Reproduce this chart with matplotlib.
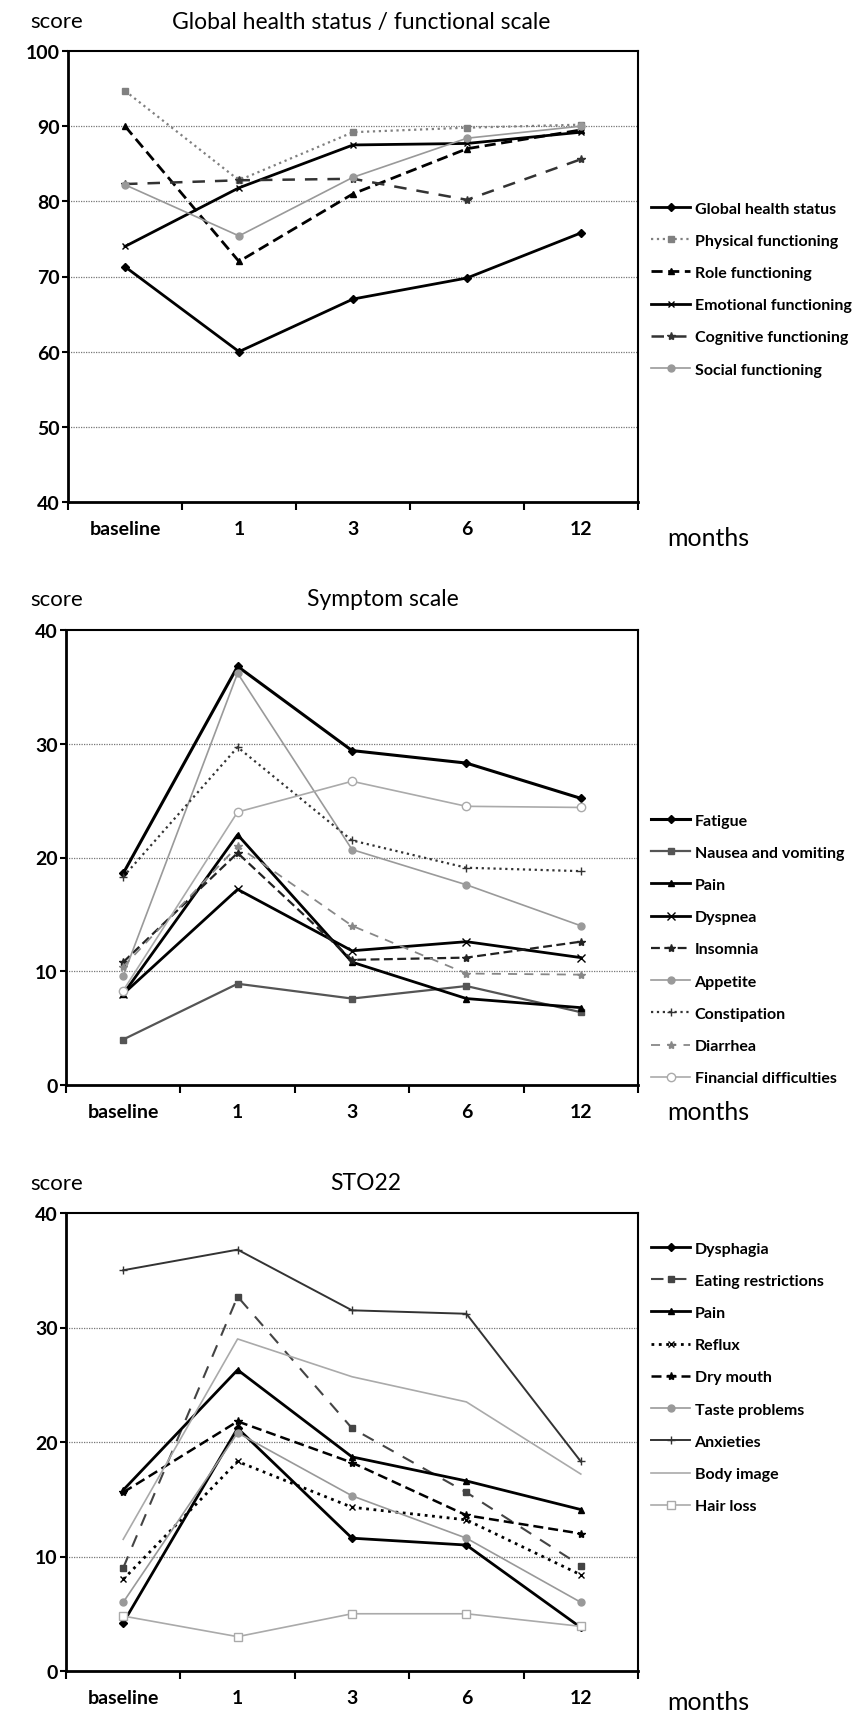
import matplotlib
matplotlib.use("Agg")
import matplotlib.pyplot as plt
import numpy as np

plt.rcParams['font.family'] = ['Lato', 'DejaVu Sans']

# x categories
months = ['baseline', '1', '3', '6', '12']

# Global health status / functional scale
global_health = [71.3, 60.0, 67.0, 69.8, 75.8]
physical_func = [94.7, 82.8, 89.2, 89.8, 90.2]
role_func = [90.0, 72.0, 81.0, 87.0, 89.5]
emotional_func = [74.0, 81.8, 87.5, 87.7, 89.2]
cognitive_func = [82.3, 82.8, 83.0, 80.2, 85.6]
social_func = [82.2, 75.4, 83.2, 88.4, 90.0]

# Symptom scale
fatigue = [18.6, 36.8, 29.4, 28.3, 25.2]
nausea = [4.0, 8.9, 7.6, 8.7, 6.4]
pain_sym = [8.0, 22.0, 10.8, 7.6, 6.8]
dyspnea = [8.0, 17.2, 11.8, 12.6, 11.2]
insomnia = [10.8, 20.4, 11.0, 11.2, 12.6]
appetite = [9.6, 36.2, 20.7, 17.6, 14.0]
constipation = [18.3, 29.7, 21.5, 19.1, 18.8]
diarrhea = [10.4, 21.0, 14.0, 9.8, 9.7]
financial = [8.3, 24.0, 26.7, 24.5, 24.4]

# STO22
dysphagia = [4.2, 21.2, 11.6, 11.0, 3.8]
eating = [9.0, 32.7, 21.2, 15.6, 9.2]
pain_sto = [15.8, 26.3, 18.7, 16.6, 14.1]
reflux = [8.0, 18.3, 14.3, 13.2, 8.4]
dry_mouth = [15.6, 21.8, 18.2, 13.6, 12.0]
taste = [6.0, 20.8, 15.3, 11.6, 6.0]
anxieties = [35.0, 36.8, 31.5, 31.2, 18.3]
body_image = [11.5, 29.0, 25.7, 23.5, 17.2]
hair_loss = [4.8, 3.0, 5.0, 5.0, 3.9]

W, H = 860, 1715
fig = plt.figure(figsize=(W / 100, H / 100), dpi=100)


def rect(l, t, r, b):
    return [l / W, 1 - b / H, (r - l) / W, (b - t) / H]


def st(ls, mk, c, lw, mfc=None, ms=5):
    return dict(linestyle=ls, marker=mk, color=c, linewidth=lw,
                markerfacecolor=mfc if mfc else c, markeredgecolor=c, markersize=ms)


def panel(box, title, title_x, top_y, series, ylim, yticks, leg_top, months_y):
    ax = fig.add_axes(rect(*box))
    x = np.arange(len(months))
    for name, vals, style in series:
        ax.plot(x, vals, label=name, **style)
    ax.set_xlim(-0.5, len(months) - 0.5)
    ax.set_ylim(*ylim)
    ax.set_yticks(yticks)
    ax.set_yticklabels([str(t) for t in yticks], fontsize=14, fontweight='bold')
    ax.set_xticks(x)
    ax.set_xticklabels(months, fontsize=14, fontweight='bold')
    ax.set_xticks(np.arange(len(months) + 1) - 0.5, minor=True)
    ax.tick_params(axis='x', which='major', length=0, pad=13)
    ax.tick_params(axis='x', which='minor', length=6, width=1.5, direction='out')
    ax.tick_params(axis='y', length=4, width=1.5, pad=2)
    for t in yticks[1:-1]:
        ax.axhline(t, color='#777777', linewidth=0.9, linestyle=(0, (1, 1)), zorder=0)
    for s in ax.spines.values():
        s.set_linewidth(2)
        s.set_color('black')
    ax.spines['top'].set_linewidth(1.5)
    ax.spines['right'].set_linewidth(1.5)
    fig.text(30 / W, 1 - top_y / H, 'score', fontsize=16, va='center', ha='left')
    fig.text(title_x / W, 1 - top_y / H, title, fontsize=16.5, va='center', ha='center')
    fig.text(667 / W, 1 - months_y / H, 'months', fontsize=18, va='center', ha='left')
    ax.legend(loc='upper left', bbox_to_anchor=(645 / W, 1 - leg_top / H),
              bbox_transform=fig.transFigure, frameon=False,
              prop=dict(size=11.5, weight='bold'), handlelength=2.4,
              handletextpad=0.3, labelspacing=1.13, borderaxespad=0)
    return ax


panel((68, 52, 638, 503), 'Global health status / functional scale', 361, 22,
      [('Global health status', global_health, st('-', 'D', 'black', 2.0, ms=4)),
       ('Physical functioning', physical_func, st(':', 's', '#808080', 1.6, ms=5)),
       ('Role functioning', role_func, st((0, (4, 2)), '^', 'black', 2.0, ms=5)),
       ('Emotional functioning', emotional_func, st('-', 'x', 'black', 2.0, ms=5)),
       ('Cognitive functioning', cognitive_func, st((0, (5, 4)), '*', '#333333', 1.8, ms=6)),
       ('Social functioning', social_func, st('-', 'o', '#999999', 1.2, ms=5))],
      (40, 100), [40, 50, 60, 70, 80, 90, 100], 196, 538)

panel((66, 631, 638, 1086), 'Symptom scale', 383, 600,
      [('Fatigue', fatigue, st('-', 'D', 'black', 2.2, ms=4)),
       ('Nausea and vomiting', nausea, st('-', 's', '#555555', 1.6, ms=5)),
       ('Pain', pain_sym, st('-', '^', 'black', 2.0, ms=5)),
       ('Dyspnea', dyspnea, st('-', 'x', 'black', 2.0, ms=6)),
       ('Insomnia', insomnia, st((0, (4, 2)), '*', '#222222', 1.6, ms=6)),
       ('Appetite', appetite, st('-', 'o', '#9a9a9a', 1.2, ms=5)),
       ('Constipation', constipation, st(':', '+', '#333333', 1.6, ms=6)),
       ('Diarrhea', diarrhea, st((0, (5, 4)), '*', '#888888', 1.3, ms=6)),
       ('Financial difficulties', financial, st('-', 'o', '#aaaaaa', 1.2, mfc='white', ms=6))],
      (0, 40), [0, 10, 20, 30, 40], 808, 1112)

panel((66, 1214, 638, 1672), 'STO22', 366, 1184,
      [('Dysphagia', dysphagia, st('-', 'D', 'black', 2.0, ms=4)),
       ('Eating restrictions', eating, st((0, (6, 5)), 's', '#444444', 1.5, ms=5)),
       ('Pain', pain_sto, st('-', '^', 'black', 2.0, ms=5)),
       ('Reflux', reflux, st(':', 'x', 'black', 2.0, ms=5)),
       ('Dry mouth', dry_mouth, st((0, (4, 2)), '*', 'black', 1.8, ms=6)),
       ('Taste problems', taste, st('-', 'o', '#999999', 1.2, ms=5)),
       ('Anxieties', anxieties, st('-', '+', '#333333', 1.4, ms=6)),
       ('Body image', body_image, st('-', '', '#aaaaaa', 1.2)),
       ('Hair loss', hair_loss, st('-', 's', '#aaaaaa', 1.2, mfc='white', ms=6))],
      (0, 40), [0, 10, 20, 30, 40], 1236, 1703)

fig.savefig('out.png', dpi=100)
